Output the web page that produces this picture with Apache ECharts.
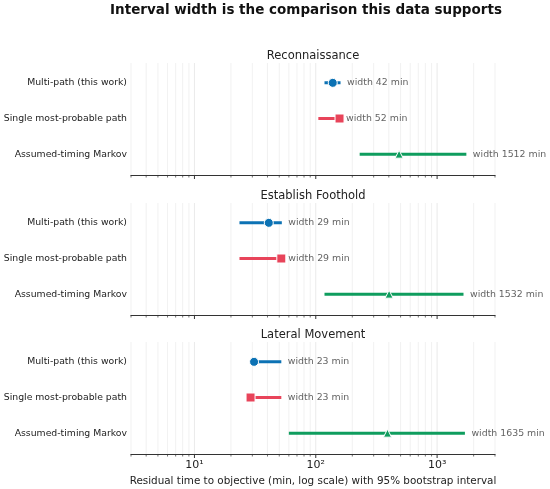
<!DOCTYPE html>
<html>
<head>
<meta charset="utf-8">
<script src="https://cdn.jsdelivr.net/npm/echarts@6/dist/echarts.min.js"></script>
<style>
html,body{margin:0;padding:0;background:#fff;}
#chart{width:550px;height:489px;}
</style>
</head>
<body>
<div id="chart"></div>
<script>
// ---- data ----
const categories = ['Multi-path (this work)', 'Single most-probable path', 'Assumed-timing Markov'];
const panels = ['Reconnaissance', 'Establish Foothold', 'Lateral Movement'];
// per panel: [Reconnaissance, Establish Foothold, Lateral Movement]
const multiLo = [118, 23.5, 29];
const multiHi = [160, 52.5, 52];
const multiPt = [138, 41, 31];
const multiWidth = [42, 29, 23];
const singleLo = [105, 23.5, 29];
const singleHi = [157, 52.5, 52];
const singlePt = [157, 52, 29];
const singleWidth = [52, 29, 23];
const markovLo = [230, 118, 60];
const markovHi = [1742, 1650, 1695];
const markovPt = [486, 402, 390];
const markovWidth = [1512, 1532, 1635];
const majorTicks = [10, 100, 1000];
const minorTicks = [3, 4, 5, 6, 7, 8, 9, 20, 30, 40, 50, 60, 70, 80, 90, 200, 300, 400, 500, 600, 700, 800, 900, 2000, 3000];
const xMin = 3, xMax = 3000;

const FONT = 'DejaVu Sans';
const methods = [
  {lo: multiLo, hi: multiHi, pt: multiPt, w: multiWidth, color: '#0C72B4', symbol: 'circle', size: 9},
  {lo: singleLo, hi: singleHi, pt: singlePt, w: singleWidth, color: '#E8445A', symbol: 'rect', size: 9},
  {lo: markovLo, hi: markovHi, pt: markovPt, w: markovWidth, color: '#0F9D5E', symbol: 'triangle', size: 8}
];
const supers = {'0':'⁰','1':'¹','2':'²','3':'³','4':'⁴','5':'⁵','6':'⁶','7':'⁷','8':'⁸','9':'⁹'};

const gridTops = [65, 205, 344];
const gridH = 107;
const axisOffset = 3;

const grids = [], xAxes = [], yAxes = [], series = [], titles = [];

titles.push({
  text: 'Interval width is the comparison this data supports',
  left: 301, top: -2, textAlign: 'center',
  textStyle: {fontFamily: FONT, fontSize: 13.5, fontWeight: 'bold', color: '#111'}
});

panels.forEach((p, i) => {
  grids.push({left: 131, right: 55, top: gridTops[i], height: gridH, outerBoundsMode: 'none', containLabel: false});
  titles.push({
    text: p, left: 308, top: gridTops[i] - 20, textAlign: 'center',
    textStyle: {fontFamily: FONT, fontSize: 11.5, fontWeight: 'normal', color: '#222'}
  });
  const last = i === panels.length - 1;
  xAxes.push({
    gridIndex: i, type: 'log', logBase: 10, min: xMin, max: xMax, offset: axisOffset,
    axisLine: {show: true, lineStyle: {color: '#333', width: 1}},
    axisTick: {show: false},
    splitLine: {show: false},
    axisLabel: {
      show: last, fontFamily: FONT, fontSize: 11, color: '#222', margin: 6,
      formatter: function (v) {
        const l = Math.log10(v);
        if (Math.abs(l - Math.round(l)) > 1e-6) return '';
        return '10' + String(Math.round(l)).split('').map(c => supers[c]).join('');
      }
    },
    name: last ? 'Residual time to objective (min, log scale) with 95% bootstrap interval' : '',
    nameLocation: 'middle', nameGap: 22,
    nameTextStyle: {fontFamily: FONT, fontSize: 10.4, color: '#222'}
  });
  yAxes.push({
    gridIndex: i, type: 'category', data: categories, inverse: true,
    axisLine: {show: false}, axisTick: {show: false}, splitLine: {show: false},
    axisLabel: {fontFamily: FONT, fontSize: 9.3, color: '#222', margin: 4}
  });

  // gridlines + ticks through the axis scale
  const allTicks = majorTicks.concat(minorTicks);
  series.push({
    type: 'custom', xAxisIndex: i, yAxisIndex: i, clip: false, silent: true, z: 1,
    data: allTicks.map(v => [v, 0, majorTicks.indexOf(v) >= 0 ? 1 : 0]),
    renderItem: function (params, api) {
      const x = api.coord([api.value(0), 0])[0];
      const cs = params.coordSys;
      const major = api.value(2) === 1;
      const yb = cs.y + cs.height + axisOffset;
      return {
        type: 'group',
        children: [
          {type: 'line', shape: {x1: x, y1: cs.y - 2, x2: x, y2: cs.y + cs.height + axisOffset},
           style: {stroke: major ? '#e4e4e4' : '#ededed', lineWidth: 0.8}},
          {type: 'line', shape: {x1: x, y1: yb, x2: x, y2: yb + (major ? 4 : 2.5)},
           style: {stroke: '#333', lineWidth: major ? 1 : 0.7}}
        ]
      };
    }
  });

  methods.forEach((m, k) => {
    const cat = categories[k];
    series.push({
      type: 'line', xAxisIndex: i, yAxisIndex: i, z: 3,
      data: [[m.lo[i], cat], [m.hi[i], cat]],
      showSymbol: false, symbol: 'none',
      lineStyle: {color: m.color, width: 3, cap: 'butt'},
      silent: true
    });
    series.push({
      type: 'scatter', xAxisIndex: i, yAxisIndex: i, z: 4,
      data: [[m.pt[i], cat]],
      symbol: m.symbol, symbolSize: m.size,
      itemStyle: {color: m.color, borderColor: '#fff', borderWidth: 1, opacity: 1},
      silent: true
    });
    series.push({
      type: 'scatter', xAxisIndex: i, yAxisIndex: i, z: 5,
      data: [[m.hi[i], cat]],
      symbolSize: 1, itemStyle: {color: 'rgba(0,0,0,0)'},
      label: {
        show: true, position: 'right', distance: 6,
        formatter: 'width ' + m.w[i] + ' min',
        fontFamily: FONT, fontSize: 9.4, color: '#3a3a3a'
      },
      silent: true
    });
  });
});

const chart = echarts.init(document.getElementById('chart'), null, {renderer: 'canvas'});
chart.setOption({
  animation: false,
  backgroundColor: '#fff',
  title: titles,
  grid: grids,
  xAxis: xAxes,
  yAxis: yAxes,
  series: series
});
</script>
</body>
</html>
